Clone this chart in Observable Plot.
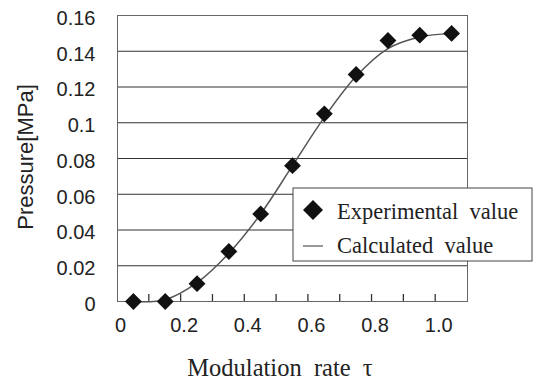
<!DOCTYPE html>
<html>
<head>
<meta charset="utf-8">
<script src="https://cdn.jsdelivr.net/npm/d3@7"></script>
<script src="https://cdn.jsdelivr.net/npm/@observablehq/plot@0.6"></script>
<style>
  html, body { margin: 0; padding: 0; background: #fff; }
  #chart { position: relative; width: 535px; height: 381px; }
</style>
</head>
<body>
<div id="chart"></div>
<script>
// ---- data ----
const modulationRate = [0.05, 0.15, 0.25, 0.35, 0.45, 0.55, 0.65, 0.75, 0.85, 0.95, 1.05];
const experimentalValue = [0.0, 0.0, 0.010, 0.028, 0.049, 0.076, 0.105, 0.127, 0.146, 0.149, 0.150];
const calculatedValue = [0.0, 0.001, 0.0105, 0.027, 0.049, 0.076, 0.103, 0.126, 0.1415, 0.148, 0.150];

const yTicks = [0, 0.02, 0.04, 0.06, 0.08, 0.10, 0.12, 0.14, 0.16];
const yTickLabels = ["0", "0.02", "0.04", "0.06", "0.08", "0.1", "0.12", "0.14", "0.16"];
const xTickMarks = [0.1, 0.2, 0.3, 0.4, 0.5, 0.6, 0.7, 0.8, 0.9, 1.0];
const xLabelTicks = [0, 0.2, 0.4, 0.6, 0.8, 1.0];
const xTickLabels = ["0", "0.2", "0.4", "0.6", "0.8", "1.0"];

const xTitle = "Modulation  rate  \u03c4";
const yTitle = "Pressure[MPa]";
const legendLabels = ["Experimental  value", "Calculated  value"];

// ---- tables ----
const expRows = modulationRate.map((x, i) => ({x, y: experimentalValue[i]}));
const calcRows = modulationRate.map((x, i) => ({x, y: calculatedValue[i]}));

const sans = "'Liberation Sans', Arial, sans-serif";
const serif = "'Liberation Serif', 'Times New Roman', serif";

const plot = Plot.plot({
  width: 535,
  height: 381,
  marginLeft: 117,
  marginRight: 68,
  marginTop: 15,
  marginBottom: 80,
  style: {fontFamily: sans, fontSize: "20px", color: "#222", background: "#fff"},
  x: {domain: [0, 1.1]},
  y: {domain: [0, 0.16]},
  marks: [
    Plot.ruleY(yTicks, {stroke: "#333", strokeWidth: 1}),
    Plot.frame({stroke: "#666", strokeWidth: 1}),
    Plot.axisY({
      ticks: yTicks, tickSize: 0, tickPadding: 22, dy: 3,
      tickFormat: d => yTickLabels[yTicks.indexOf(d)],
      label: null, fontSize: 20
    }),
    Plot.axisX({
      ticks: xLabelTicks, tickSize: 0, tickPadding: 16, dx: 3,
      tickFormat: d => xTickLabels[xLabelTicks.indexOf(d)],
      label: null, fontSize: 20
    }),
    Plot.line(calcRows, {x: "x", y: "y", curve: "catmull-rom", stroke: "#555", strokeWidth: 1.5}),
    Plot.dot(expRows, {x: "x", y: "y", symbol: "diamond2", r: 7.6, fill: "#111", stroke: "none"})
  ]
});

document.getElementById("chart").appendChild(plot);

const svg = d3.select(plot);
const xs = plot.scale("x");
const ys = plot.scale("y");

// inward tick marks on the x axis, placed through Plot's own scales
const y0 = ys.apply(0);
svg.append("g").attr("stroke", "#333").attr("stroke-width", 1.3)
  .selectAll("line").data(xTickMarks).join("line")
  .attr("x1", d => xs.apply(d))
  .attr("x2", d => xs.apply(d))
  .attr("y1", y0 - 7)
  .attr("y2", y0);

// axis titles
svg.append("text")
  .attr("x", 280).attr("y", 376)
  .attr("text-anchor", "middle")
  .style("white-space", "pre")
  .attr("font-family", serif).attr("font-size", 24.5).attr("fill", "#222")
  .text(xTitle);

svg.append("text")
  .attr("transform", "translate(33,157) rotate(-90)")
  .attr("text-anchor", "middle")
  .attr("font-family", sans).attr("font-size", 22).attr("fill", "#222")
  .text(yTitle);

// legend
const lg = svg.append("g").attr("text-anchor", "start");
lg.append("rect")
  .attr("x", 293).attr("y", 188).attr("width", 239).attr("height", 73)
  .attr("fill", "#fff").attr("stroke", "#444").attr("stroke-width", 1);
lg.append("path")
  .attr("d", d3.symbol(d3.symbolDiamond2, Math.PI * 9 * 9)())
  .attr("transform", "translate(313,210)")
  .attr("fill", "#111");
lg.append("path")
  .attr("d", "M303,246H323")
  .attr("fill", "none")
  .attr("stroke", "#777").attr("stroke-width", 1.5);
lg.selectAll("text.lg").data(legendLabels).join("text")
  .attr("class", "lg")
  .attr("x", 337)
  .attr("y", (d, i) => i === 0 ? 219 : 253)
  .attr("text-anchor", "start")
  .style("white-space", "pre")
  .attr("font-family", serif).attr("font-size", 22.5).attr("fill", "#222")
  .text(d => d);
</script>
</body>
</html>
